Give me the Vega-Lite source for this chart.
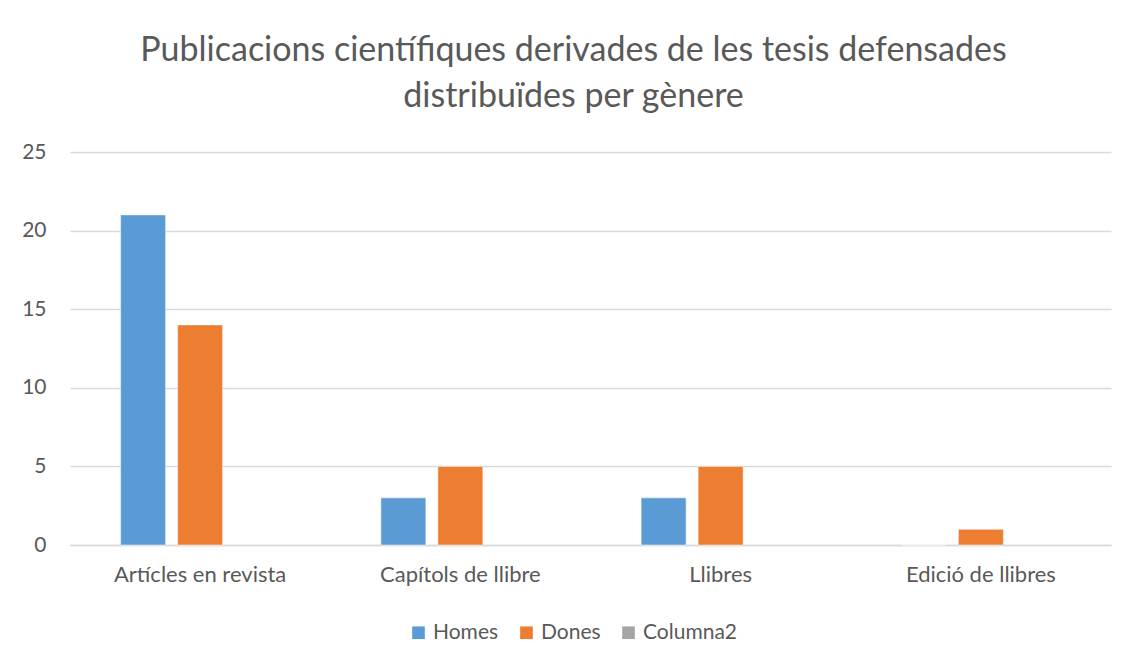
{
  "$schema": "https://vega.github.io/schema/vega-lite/v6.json",
  "autosize": "none",
  "width": 1041,
  "height": 393,
  "padding": {"left": 70, "top": 152, "right": 21, "bottom": 119},
  "background": "white",
  "title": {
    "text": ["Publicacions científiques derivades de les tesis defensades", "distribuïdes per gènere"],
    "font": "Lato",
    "fontSize": 34,
    "fontWeight": "normal",
    "color": "#595959",
    "anchor": "middle",
    "baseline": "alphabetic",
    "lineHeight": 46,
    "offset": 45,
    "dy": 45,
    "dx": -17
  },
  "data": {
    "values": [
      {"categoria": "Artícles en revista", "serie": "Homes", "valor": 21},
      {"categoria": "Artícles en revista", "serie": "Dones", "valor": 14},
      {"categoria": "Capítols de llibre", "serie": "Homes", "valor": 3},
      {"categoria": "Capítols de llibre", "serie": "Dones", "valor": 5},
      {"categoria": "Llibres", "serie": "Homes", "valor": 3},
      {"categoria": "Llibres", "serie": "Dones", "valor": 5},
      {"categoria": "Edició de llibres", "serie": "Homes", "valor": 0},
      {"categoria": "Edició de llibres", "serie": "Dones", "valor": 1}
    ]
  },
  "mark": {"type": "bar", "stroke": "white", "strokeWidth": 0.5},
  "encoding": {
    "x": {
      "field": "categoria",
      "type": "nominal",
      "sort": ["Artícles en revista", "Capítols de llibre", "Llibres", "Edició de llibres"],
      "scale": {"paddingInner": 0, "paddingOuter": 0},
      "axis": {
        "title": null,
        "labelAngle": 0,
        "labelFont": "Lato",
        "labelFontSize": 22,
        "labelColor": "#595959",
        "labelPadding": 19,
        "ticks": false,
        "domain": true,
        "domainColor": "#D9D9D9",
        "domainWidth": 1.5,
        "grid": false
      }
    },
    "xOffset": {
      "field": "serie",
      "type": "nominal",
      "scale": {"domain": ["Homes", "Dones", "Columna2"], "paddingInner": 0.2105, "paddingOuter": 0.888}
    },
    "y": {
      "field": "valor",
      "type": "quantitative",
      "scale": {"domain": [0, 25], "nice": false},
      "axis": {
        "title": null,
        "values": [0, 5, 10, 15, 20, 25],
        "labelFont": "Lato",
        "labelFontSize": 21,
        "labelColor": "#595959",
        "labelPadding": 24,
        "ticks": false,
        "domain": false,
        "grid": true,
        "gridColor": "#D9D9D9",
        "gridWidth": 1.5
      }
    },
    "color": {
      "field": "serie",
      "type": "nominal",
      "scale": {"domain": ["Homes", "Dones", "Columna2"], "range": ["#5B9BD5", "#ED7D31", "#A5A5A5"]},
      "legend": {
        "title": null,
        "orient": "none",
        "legendX": 338,
        "legendY": 470,
        "direction": "horizontal",
        "symbolType": "square",
        "symbolSize": 160,
        "symbolStrokeWidth": 0,
        "labelFont": "Lato",
        "labelFontSize": 21,
        "labelColor": "#595959",
        "columnPadding": 17,
        "labelOffset": 4
      }
    }
  },
  "config": {
    "view": {"stroke": null}
  }
}
